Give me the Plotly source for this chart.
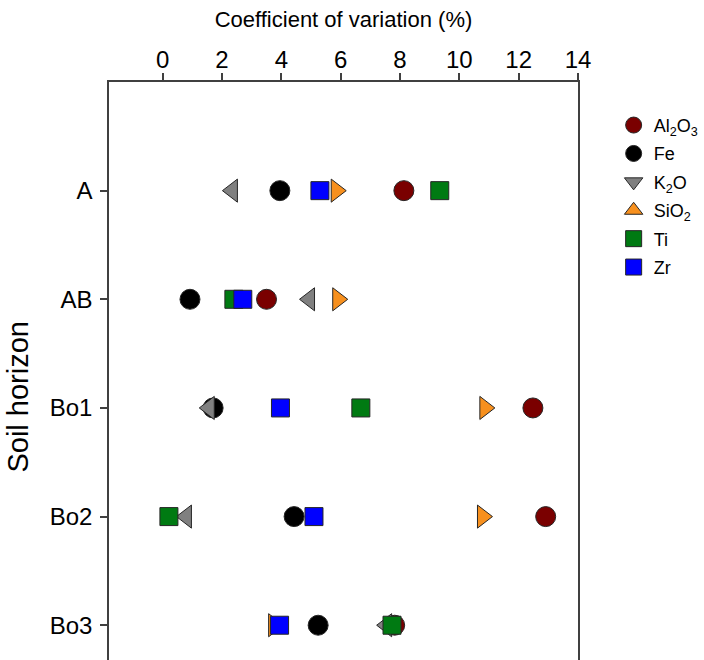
import plotly.graph_objects as go

# Soil horizons (top to bottom) and coefficient of variation (%) per element
horizons = ["A", "AB", "Bo1", "Bo2", "Bo3"]
al2o3 = [8.13, 3.50, 12.48, 12.91, 7.82]
fe = [3.95, 0.92, 1.70, 4.43, 5.24]
k2o = [2.35, 4.95, 1.57, 0.80, 7.55]
sio2 = [5.85, 5.90, 10.86, 10.78, 3.74]
ti = [9.34, 2.40, 6.68, 0.21, 7.73]
zr = [5.30, 2.70, 3.97, 5.10, 3.94]

x_ticks = [0, 2, 4, 6, 8, 10, 12, 14]

# name, values, plotted symbol, legend symbol, colour, size
series = [
    ("Al<sub>2</sub>O<sub>3</sub>", al2o3, "circle", "circle", "#7a0000", 20),
    ("Fe", fe, "circle", "circle", "#000000", 20),
    ("K<sub>2</sub>O", k2o, "triangle-left", "triangle-down", "#808080", 20),
    ("SiO<sub>2</sub>", sio2, "triangle-right", "triangle-up", "#f7901e", 20),
    ("Ti", ti, "square", "square", "#007a12", 18),
    ("Zr", zr, "square", "square", "#0000ff", 18),
]

ypos = list(range(len(horizons)))
fig = go.Figure()
for i, (name, vals, sym, leg_sym, col, size) in enumerate(series):
    line = dict(color="#262626", width=1)
    fig.add_trace(go.Scatter(
        x=vals, y=ypos, mode="markers", name=name, legendgroup=f"g{i}",
        showlegend=False,
        marker=dict(symbol=sym, color=col, size=size, line=line),
    ))
    fig.add_trace(go.Scatter(
        x=[None], y=[None], mode="markers", name=name, legendgroup=f"g{i}",
        showlegend=True,
        marker=dict(symbol=leg_sym, color=col, size=size, line=line),
    ))

font = "Liberation Sans, Arial, sans-serif"
axis_col = "#404040"
fig.update_layout(
    width=704, height=660,
    margin=dict(l=109, r=125.5, t=82, b=0, autoexpand=False),
    paper_bgcolor="white", plot_bgcolor="white",
    font=dict(family=font, color="#000000"),
    showlegend=True,
    legend=dict(
        x=1.076, y=0.957, xanchor="left", yanchor="top",
        font=dict(size=18, family=font), tracegroupgap=2,
        bgcolor="rgba(0,0,0,0)", itemclick=False,
    ),
    xaxis=dict(
        side="top", range=[-1.81, 14], tickvals=x_ticks,
        ticktext=[str(v) for v in x_ticks],
        showgrid=False, zeroline=False, showline=True, linecolor=axis_col,
        linewidth=1.5, ticks="outside", ticklen=7, tickwidth=1.5,
        tickcolor=axis_col, tickfont=dict(size=24),
        ticklabelstandoff=-4,
        title=dict(text="Coefficient of variation (%)", font=dict(size=22),
                   standoff=12),
        automargin=False,
    ),
    yaxis=dict(
        range=[4.32, -1.0], tickvals=ypos, ticktext=horizons,
        showgrid=False, zeroline=False, showline=True, mirror=True,
        linecolor=axis_col, linewidth=1.5, ticks="outside", ticklen=7,
        tickwidth=1.5, tickcolor=axis_col, tickfont=dict(size=24),
        ticklabelstandoff=3,
        automargin=False,
    ),
    annotations=[dict(
        text="Soil horizon", xref="paper", yref="paper",
        x=-0.195, y=0.455, xanchor="center", yanchor="middle",
        textangle=-90, showarrow=False, font=dict(size=29, family=font),
    )],
)

fig.write_html("out.html")
